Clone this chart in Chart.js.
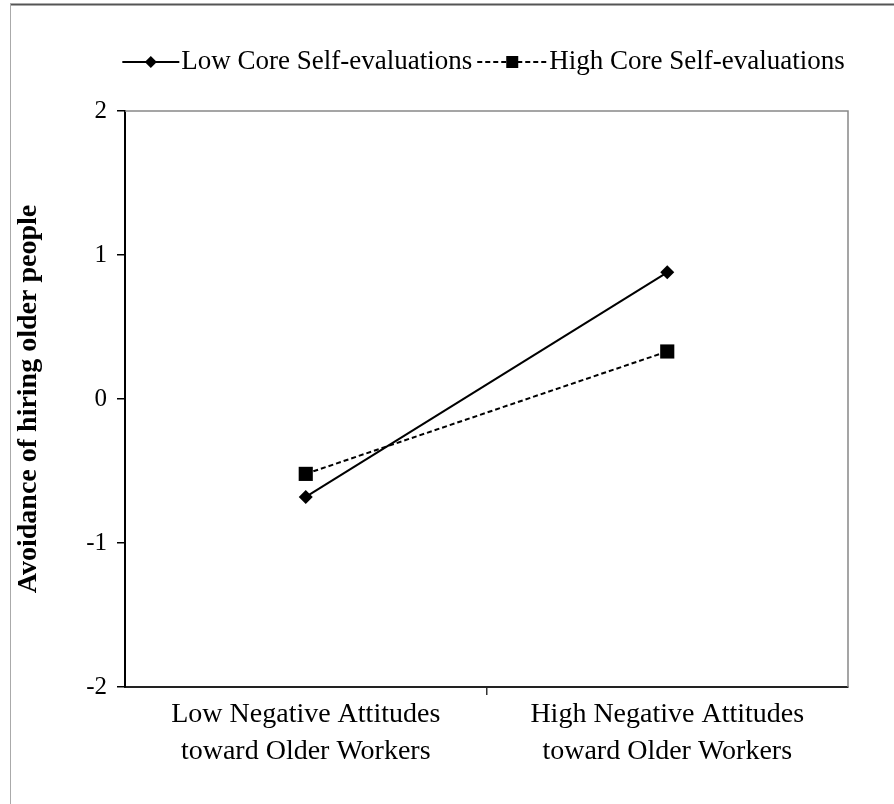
<!DOCTYPE html>
<html>
<head>
<meta charset="utf-8">
<script src="https://cdn.jsdelivr.net/npm/chart.js@4/dist/chart.umd.min.js"></script>
<style>
  html, body { margin: 0; padding: 0; background: #fff; }
  canvas { display: block; }
</style>
</head>
<body>
<canvas id="interactionChart" width="894" height="804"></canvas>
<script>
// data
var categories = [
    ['Low Negative Attitudes', 'toward Older Workers'],
    ['High Negative Attitudes', 'toward Older Workers']
];
var lowCoreSelf = [-0.68, 0.88];
var highCoreSelf = [-0.52, 0.33];
var seriesNames = ['Low Core Self-evaluations', 'High Core Self-evaluations'];
var yMin = -2, yMax = 2, yStep = 1;
var yTitle = 'Avoidance of hiring older people';

var serif = '"Liberation Serif", "Times New Roman", serif';

// page frame + plot frame (top and right edges in grey)
var framePlugin = {
    id: 'frame',
    beforeDraw: function (chart) {
        var ctx = chart.ctx;
        ctx.save();
        ctx.fillStyle = '#fff';
        ctx.fillRect(0, 0, chart.width, chart.height);
        ctx.strokeStyle = '#555';
        ctx.lineWidth = 2;
        ctx.beginPath();
        ctx.moveTo(10, 4.5);
        ctx.lineTo(chart.width, 4.5);
        ctx.stroke();
        ctx.strokeStyle = '#aaa';
        ctx.lineWidth = 1;
        ctx.beginPath();
        ctx.moveTo(10.5, 4);
        ctx.lineTo(10.5, chart.height);
        ctx.stroke();
        ctx.restore();
    },
    beforeDatasetsDraw: function (chart) {
        var a = chart.chartArea;
        var ctx = chart.ctx;
        ctx.save();
        ctx.strokeStyle = '#888';
        ctx.lineWidth = 1.5;
        ctx.beginPath();
        ctx.moveTo(a.left, a.top);
        ctx.lineTo(a.right, a.top);
        ctx.lineTo(a.right, a.bottom);
        ctx.stroke();
        ctx.restore();
    }
};

// legend drawn by hand: line + marker + label
var legendPlugin = {
    id: 'lineLegend',
    afterDraw: function (chart) {
        var ctx = chart.ctx;
        var a = chart.chartArea;
        var y = 62;
        var sampleW = [57, 70], gap = 2, itemGap = 5;
        ctx.save();
        ctx.font = '27px ' + serif;
        ctx.textBaseline = 'middle';
        ctx.fillStyle = '#000';
        var widths = chart.data.datasets.map(function (ds) { return ctx.measureText(ds.label).width; });
        var total = 0;
        widths.forEach(function (w, i) { total += sampleW[i] + gap + w; });
        total += itemGap * (widths.length - 1);
        var x = (a.left + a.right) / 2 - 3 - total / 2;
        chart.data.datasets.forEach(function (ds, i) {
            ctx.strokeStyle = '#000';
            ctx.lineWidth = 2;
            ctx.setLineDash(ds.borderDash || []);
            ctx.beginPath();
            ctx.moveTo(x, y);
            ctx.lineTo(x + sampleW[i], y);
            ctx.stroke();
            ctx.setLineDash([]);
            var cx = x + sampleW[i] / 2;
            ctx.beginPath();
            if (ds.pointStyle === 'rectRot') {
                ctx.moveTo(cx, y - 6);
                ctx.lineTo(cx + 6, y);
                ctx.lineTo(cx, y + 6);
                ctx.lineTo(cx - 6, y);
                ctx.closePath();
            } else {
                ctx.rect(cx - 6, y - 6, 12, 12);
            }
            ctx.fill();
            ctx.fillText(ds.label, x + sampleW[i] + gap, y);
            x += sampleW[i] + gap + widths[i] + itemGap;
        });
        ctx.restore();
    }
};

var ctx = document.getElementById('interactionChart');
new Chart(ctx, {
    type: 'line',
    data: {
        labels: categories,
        datasets: [{
            label: seriesNames[0],
            data: lowCoreSelf,
            borderColor: '#000',
            backgroundColor: '#000',
            borderWidth: 2,
            pointStyle: 'rectRot',
            pointRadius: 7,
            pointBorderWidth: 0,
            fill: false,
            tension: 0
        },
        {
            label: seriesNames[1],
            data: highCoreSelf,
            borderColor: '#000',
            backgroundColor: '#000',
            borderWidth: 2,
            borderDash: [5, 3],
            pointStyle: 'rect',
            pointRadius: 10,
            pointBorderWidth: 0,
            fill: false,
            tension: 0
        }]
    },
    options: {
        responsive: false,
        animation: false,
        layout: { padding: { top: 111, right: 46, bottom: 0, left: 0 } },
        plugins: {
            legend: { display: false },
            tooltip: { enabled: false }
        },
        scales: {
            x: {
                type: 'category',
                offset: true,
                grid: {
                    offset: true,
                    drawOnChartArea: false,
                    tickLength: 8,
                    color: function (c) { return c.index === 1 ? '#333' : 'rgba(0,0,0,0)'; },
                    lineWidth: 1.5
                },
                border: { color: '#222', width: 2 },
                ticks: {
                    color: '#000',
                    padding: 1,
                    maxRotation: 0,
                    font: { family: serif, size: 28, lineHeight: 1.32 }
                },
                afterFit: function (scale) { scale.height = 117; }
            },
            y: {
                min: yMin,
                max: yMax,
                grid: {
                    drawOnChartArea: false,
                    tickLength: 8,
                    color: '#000',
                    lineWidth: 1.5
                },
                border: { color: '#000', width: 2 },
                ticks: {
                    stepSize: yStep,
                    color: '#000',
                    padding: 10,
                    font: { family: serif, size: 25 }
                },
                title: {
                    display: true,
                    text: yTitle,
                    color: '#000',
                    padding: { top: 12, bottom: 0 },
                    font: { family: serif, size: 28, weight: 'bold' }
                },
                afterFit: function (scale) { scale.width = 125; }
            }
        }
    },
    plugins: [framePlugin, legendPlugin]
});
</script>
</body>
</html>
